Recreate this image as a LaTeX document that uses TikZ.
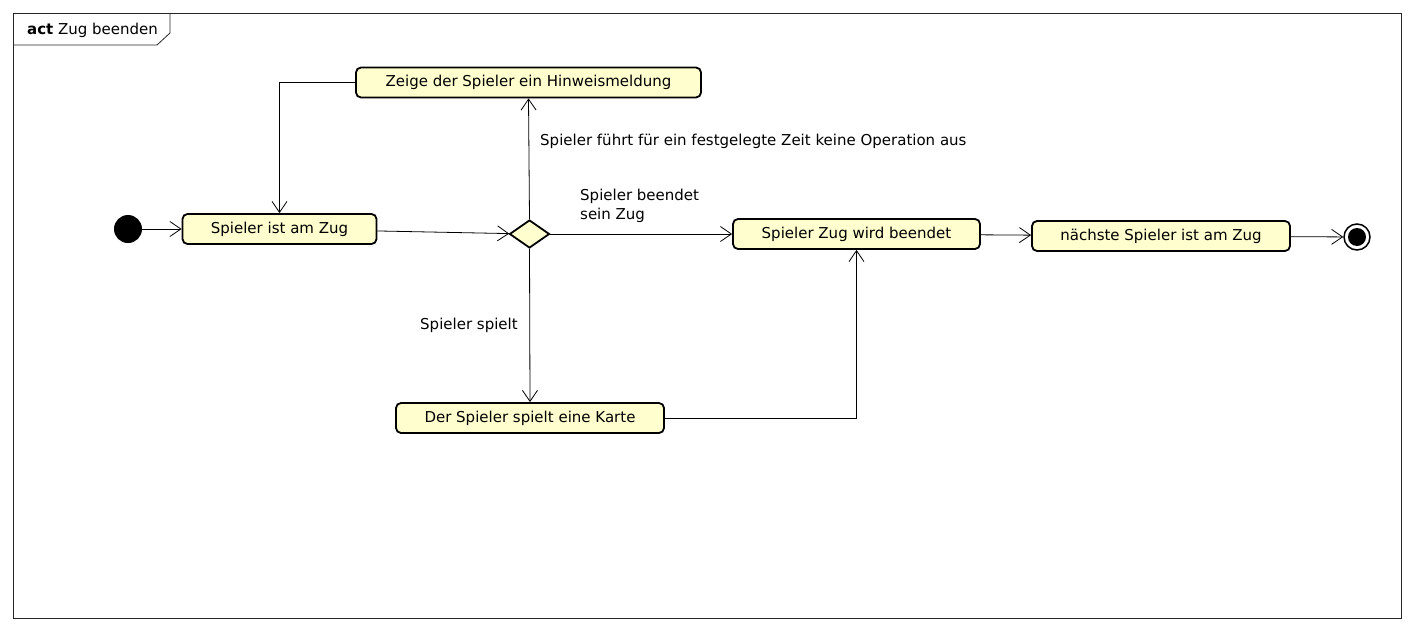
\documentclass[tikz,border=0pt]{standalone}
\usepackage{fontspec}
\setmainfont{DejaVu Sans}
\usetikzlibrary{arrows.meta,shapes.geometric}
\definecolor{actfill}{HTML}{FEFECE}
\begin{document}
\begin{tikzpicture}[x=1pt,y=-1pt,
  every node/.style={font=\fontsize{15}{18}\selectfont},
  action/.style={draw=black,line width=1.8pt,fill=actfill,rounded corners=5pt,minimum height=30pt,inner sep=0pt},
  decision/.style={draw=black,line width=1.8pt,fill=actfill,shape=diamond,minimum width=40pt,minimum height=28pt,inner sep=0pt},
  flow/.style={line width=0.8pt,-{Straight Barb[length=11pt,width=15pt]}},
  lbl/.style={inner sep=0pt,align=left}]
\fill[white] (0,0) rectangle (1414,632);
\useasboundingbox (0,0) rectangle (1414,632);
% frame
\draw[line width=0.8pt,draw=black!85] (13,13) rectangle (1401,618);
\draw[line width=0.8pt,draw=black!85] (13,45) -- (157,45) -- (170,33) -- (170,13);
\node[lbl,anchor=west] (title) at (27,30) {\textbf{act} Zug beenden};
% nodes
\node[circle,fill=black,minimum size=28pt,inner sep=0pt] (init) at (128,229) {};
\node[action,minimum width=194pt] (s1) at (279.5,229) {Spieler ist am Zug};
\node[action,minimum width=345pt] (z) at (528.5,82.5) {Zeige der Spieler ein Hinweismeldung};
\node[decision] (d) at (529.5,234) {};
\node[action,minimum width=247pt] (sz) at (856.5,234) {Spieler Zug wird beendet};
\node[action,minimum width=258pt] (n) at (1161,236) {nächste Spieler ist am Zug};
\node[action,minimum width=268pt] (k) at (530,418) {Der Spieler spielt eine Karte};
\node[circle,draw=black,line width=1.5pt,fill=white,minimum size=26pt,inner sep=0pt] (fin) at (1357,237) {};
\node[circle,fill=black,minimum size=18pt,inner sep=0pt] (fin2) at (fin.center) {};
% edges
\draw[flow] (init) -- (s1);
\draw[flow] (s1) -- (d);
\draw[flow] (z.west) -| (s1.north);
\draw[flow] (d.north) -- (z.south);
\draw[flow] (d.east) -- (sz.west);
\draw[flow] (d.south) -- (k.north);
\draw[flow] (k.east) -| (sz.south);
\draw[flow] (sz) -- (n);
\draw[flow] (n) -- (fin);
% labels
\node[lbl,anchor=west] (l1) at (540,141) {Spieler führt für ein festgelegte Zeit keine Operation aus};
\node[lbl,anchor=west,font=\fontsize{15}{19}\selectfont] (l2) at (580,206) {Spieler beendet\\sein Zug};
\node[lbl,anchor=west] (l3) at (420,325) {Spieler spielt};
\end{tikzpicture}
\end{document}
